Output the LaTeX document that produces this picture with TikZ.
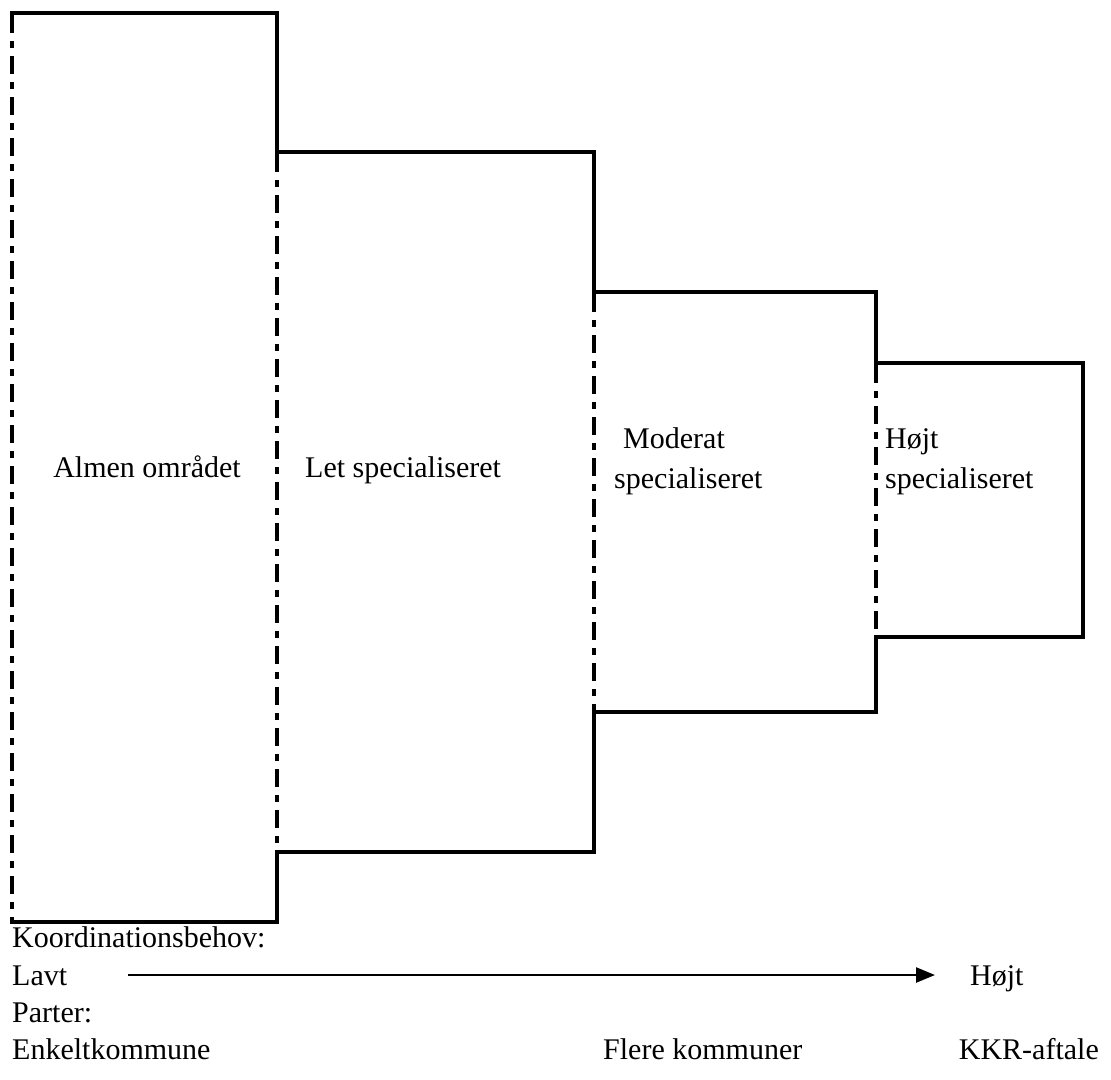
\documentclass[tikz,border=0pt]{standalone}
\usepackage{fontspec}
\setmainfont{Liberation Serif}
\usetikzlibrary{arrows.meta}
\tikzset{
  outline/.style={line width=3.8pt, line cap=butt, line join=miter},
  dashdot/.style={line width=3.8pt, dash pattern=on 18pt off 8pt on 7pt off 8pt},
  lbl/.style={anchor=base west, inner sep=0pt, font=\fontsize{30}{36}\selectfont},
  axis/.style={line width=2.5pt, -{Triangle[length=19pt,width=15pt]}}
}
\begin{document}
\begin{tikzpicture}[x=1pt,y=-1pt]
\useasboundingbox (0,0) rectangle (1111,1079);
% solid outline of the stepped boxes
\draw[outline] (10,13) -- (277,13) -- (277,152) -- (594,152) -- (594,292) -- (876,292) -- (876,363)
  -- (1083,363) -- (1083,637) -- (876,637) -- (876,712) -- (594,712) -- (594,852)
  -- (277,852) -- (277,922) -- (10,922);
% dash-dot separators
\draw[dashdot] (12,15) -- (12,920);
\draw[dashdot] (277,154) -- (277,850);
\draw[dashdot] (594,294) -- (594,710);
\draw[dashdot] (876,365) -- (876,635);
% box labels
\node[lbl, anchor=base] (almen) at (147,477) {Almen området};
\node[lbl] (let) at (305,477) {Let specialiseret};
\node[lbl] (mod1) at (623,448) {Moderat};
\node[lbl] (mod2) at (614,488) {specialiseret};
\node[lbl] (hoj1) at (885,448) {Højt};
\node[lbl] (hoj2) at (885,488) {specialiseret};
% bottom texts
\node[lbl] (koord) at (12,947) {Koordinationsbehov:};
\node[lbl] (lavt) at (12,985) {Lavt};
\node[lbl] (hojt) at (970,985) {Højt};
\node[lbl] (parter) at (12,1022) {Parter:};
\node[lbl] (enkelt) at (12,1059) {Enkeltkommune};
\node[lbl] (flere) at (603,1059) {Flere kommuner};
\node[lbl, anchor=base east] (kkr) at (1099,1059) {KKR-aftale};
\coordinate (aS) at (128,975);
\coordinate (aE) at (935,975);
\draw[axis] (aS) -- (aE);
\end{tikzpicture}
\end{document}
